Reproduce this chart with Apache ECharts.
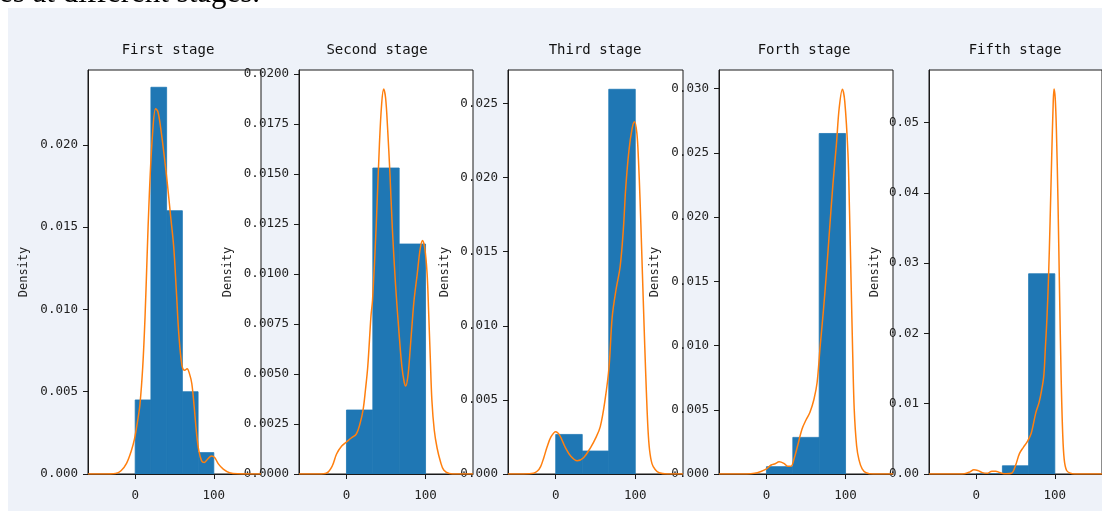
<!DOCTYPE html>
<html><head><meta charset="utf-8">
<script src="https://cdn.jsdelivr.net/npm/echarts@6/dist/echarts.min.js"></script>
<style>
html,body{margin:0;padding:0;background:#fff;overflow:hidden;}
#bg{position:absolute;left:8px;top:8px;width:1094px;height:503px;background:#eef2f9;}
#c{position:absolute;left:0;top:0;width:1102px;height:511px;}
</style>
</head><body><div id="bg"></div><div id="c"></div>
<script>
// ---------- data ----------
const titles = ['First stage', 'Second stage', 'Third stage', 'Forth stage', 'Fifth stage'];
const caption = 'es at different stages.';
const yLabel = 'Density';

const edges5 = [0, 20, 40, 60, 80, 100];
const edges3 = [0, 33.333, 66.667, 100];

const hist1 = [0.0045, 0.0235, 0.0160, 0.0050, 0.0013];
const hist2 = [0.0032, 0.0153, 0.0115];
const hist3 = [0.00267, 0.00155, 0.02596];
const hist4 = [0.00057, 0.00285, 0.0265];
const hist5 = [0, 0.00117, 0.0285];

const kde1 = [[-60,0],[-40,0],[-25,0.00003],[-18,0.0002],[-11,0.00065],[-5,0.0014],[-1,0.0021],[3,0.0032],[6,0.0042],[9.6,0.0065],[12.5,0.0095],[15,0.0130],[18,0.0170],[22,0.0206],[26,0.0222],[29,0.0220],[32.5,0.0210],[37,0.0193],[41,0.0176],[45,0.0157],[49,0.0138],[52.5,0.0110],[55.5,0.0085],[59.5,0.0066],[63,0.0063],[66,0.0064],[69,0.0061],[72,0.0055],[75,0.0041],[78,0.0025],[81,0.0014],[84.5,0.0008],[88,0.0007],[92,0.0009],[97,0.0011],[101,0.0010],[106,0.0006],[112,0.0003],[120,0.00008],[130,0.00001],[145,0],[160,0]];
const kde2 = [[-60,0],[-35,0],[-25,0.00005],[-18,0.0004],[-12.5,0.001],[-6,0.0014],[0,0.0016],[6,0.0018],[12.5,0.002],[17,0.0025],[21,0.0032],[24,0.0042],[27,0.0054],[31,0.0079],[33,0.0087],[37.5,0.0123],[41.7,0.0165],[44.5,0.0185],[47,0.01925],[49.5,0.0188],[52,0.0173],[55,0.0150],[58,0.0123],[62,0.0095],[66,0.0073],[70,0.0054],[73,0.0046],[75,0.0044],[78,0.0050],[80.5,0.0062],[83,0.0075],[85.5,0.0087],[89.5,0.0100],[93,0.0112],[96,0.01168],[99,0.0113],[102,0.0100],[104,0.0080],[106,0.0058],[108,0.0037],[111,0.0022],[114.6,0.0013],[119,0.0006],[123,0.0002],[130,0.00003],[140,0],[160,0]];
const kde3 = [[-60,0],[-40,0],[-28,0.00005],[-23,0.0002],[-19,0.0005],[-15,0.0011],[-11,0.0018],[-6,0.0025],[0,0.00285],[5,0.0026],[12,0.0018],[19,0.0012],[27,0.0009],[35,0.0011],[44,0.0018],[50,0.0024],[56,0.0032],[62,0.0050],[67,0.0072],[71,0.0106],[76,0.0125],[81,0.0140],[85,0.0165],[88,0.0193],[92,0.0218],[96,0.0233],[99,0.02376],[102,0.0230],[104,0.0212],[106,0.0185],[108,0.0152],[110,0.0118],[112,0.0085],[114,0.0055],[116,0.0030],[118,0.0016],[121,0.0007],[125,0.0003],[130,0.00008],[140,0],[160,0]];
const kde4 = [[-60,0],[-25,0],[-15,0.00005],[-7,0.0002],[0,0.0004],[6,0.0007],[11,0.0008],[16,0.00095],[22,0.00083],[27,0.0006],[31,0.0006],[35,0.0012],[39,0.0021],[45,0.0035],[50,0.0042],[55,0.0048],[60,0.0058],[64,0.0071],[68,0.0100],[72,0.0127],[76,0.0158],[80,0.0192],[84,0.0225],[88.5,0.0257],[92,0.0285],[96,0.02995],[99,0.0290],[103,0.0250],[105,0.0205],[107,0.0150],[109,0.0095],[111,0.0050],[114,0.0022],[117,0.0011],[121,0.0004],[126,0.0001],[135,0],[160,0]];
const kde5 = [[-60,0],[-30,0],[-15,0.00005],[-8,0.0003],[-3,0.0006],[2,0.0005],[8,0.0002],[14,0.0001],[20,0.0004],[25,0.0004],[30,0.0002],[38,0.00003],[45,0.0001],[50,0.0012],[55,0.0029],[60,0.0038],[65,0.0046],[70,0.0058],[76,0.0088],[80,0.0102],[83,0.0118],[86,0.014],[88,0.018],[90,0.0222],[92,0.028],[94,0.036],[96,0.045],[98,0.053],[99,0.0548],[100.5,0.0535],[102,0.049],[104,0.039],[106,0.026],[108,0.014],[110,0.0058],[112,0.002],[115,0.0005],[120,0.0001],[125,0],[160,0]];

const xRange = [-60, 160];
const xTicks = [0, 100];
const yTicks1 = [0, 0.005, 0.010, 0.015, 0.020];
const yTicks2 = [0, 0.0025, 0.0050, 0.0075, 0.0100, 0.0125, 0.0150, 0.0175, 0.0200];
const yTicks3 = [0, 0.005, 0.010, 0.015, 0.020, 0.025];
const yTicks4 = [0, 0.005, 0.010, 0.015, 0.020, 0.025, 0.030];
const yTicks5 = [0, 0.01, 0.02, 0.03, 0.04, 0.05];
const yTickDecimals = [3, 4, 3, 3, 2];
const yMax = [0.02455, 0.0202, 0.02726, 0.03144, 0.0575];

// ---------- layout ----------
const gridLeft = [88, 299, 508, 719, 929];
const gridWidth = [173, 174, 175, 174, 174];
const gridTop = 70, gridHeight = 404;
const nameGaps = [58, 65, 57, 58, 48];
const titleX = [168, 377, 595, 804, 1015];

const hists = [hist1, hist2, hist3, hist4, hist5];
const kdes = [kde1, kde2, kde3, kde4, kde5];
const yTicks = [yTicks1, yTicks2, yTicks3, yTicks4, yTicks5];

const BLUE = '#1f77b4', ORANGE = '#ff7f0e', INK = '#1a1a1a';
const mono = "'DejaVu Sans Mono', monospace";

const grids = [], xAxes = [], yAxes = [], series = [], graphics = [];
for (let i = 0; i < 5; i++) {
  grids.push({left: gridLeft[i], top: gridTop, width: gridWidth[i], height: gridHeight,
    show: true, backgroundColor: '#fff', borderColor: INK, borderWidth: 1, containLabel: false});
  xAxes.push({type: 'value', gridIndex: i, min: xRange[0], max: xRange[1],
    axisLine: {show: true, onZero: false, lineStyle: {color: INK, width: 1}},
    axisTick: {show: true, length: 5, customValues: xTicks, lineStyle: {color: INK}},
    axisLabel: {customValues: xTicks, fontFamily: mono, fontSize: 12.5, color: '#222', margin: 15},
    splitLine: {show: false}});
  const dec = yTickDecimals[i];
  yAxes.push({type: 'value', gridIndex: i, min: 0, max: yMax[i],
    name: yLabel, nameLocation: 'middle', nameGap: nameGaps[i],
    nameTextStyle: {fontFamily: mono, fontSize: 12, color: '#222'},
    axisLine: {show: true, onZero: false, lineStyle: {color: INK, width: 1}},
    axisTick: {show: true, length: 5, customValues: yTicks[i], lineStyle: {color: INK}},
    axisLabel: {customValues: yTicks[i], fontFamily: mono, fontSize: 12.5, color: '#222', margin: 10,
      formatter: v => Number(v).toFixed(dec)},
    splitLine: {show: false}});
  const edges = hists[i].length === 5 ? edges5 : edges3;
  const binData = hists[i].map((h, k) => [edges[k], edges[k + 1], h]);
  series.push({type: 'custom', xAxisIndex: i, yAxisIndex: i, data: binData,
    encode: {x: [0, 1], y: 2}, clip: true,
    renderItem: (params, api) => {
      const p0 = api.coord([api.value(0), 0]);
      const p1 = api.coord([api.value(1), api.value(2)]);
      return {type: 'rect', shape: {x: p0[0], y: p1[1], width: p1[0] - p0[0], height: p0[1] - p1[1]},
        style: {fill: BLUE, stroke: BLUE, lineWidth: 0.8}};
    }});
  series.push({type: 'line', xAxisIndex: i, yAxisIndex: i, data: kdes[i], smooth: 0.35,
    showSymbol: false, symbol: 'none', clip: true, z: 5,
    lineStyle: {color: ORANGE, width: 1.5}});
  graphics.push({type: 'text', x: titleX[i], y: 50,
    style: {text: titles[i], fontFamily: mono, fontSize: 14, fill: '#111', align: 'center', verticalAlign: 'middle'}});
}
graphics.push({type: 'text', x: -1, y: -6,
  style: {text: caption, fontFamily: "'Liberation Serif', serif", fontSize: 31, fill: '#000', align: 'left', verticalAlign: 'middle'}});

const chart = echarts.init(document.getElementById('c'), null, {renderer: 'canvas'});
chart.setOption({
  backgroundColor: 'transparent',
  animation: false,
  grid: grids, xAxis: xAxes, yAxis: yAxes, series: series,
  graphic: graphics
});
</script>
</body></html>
